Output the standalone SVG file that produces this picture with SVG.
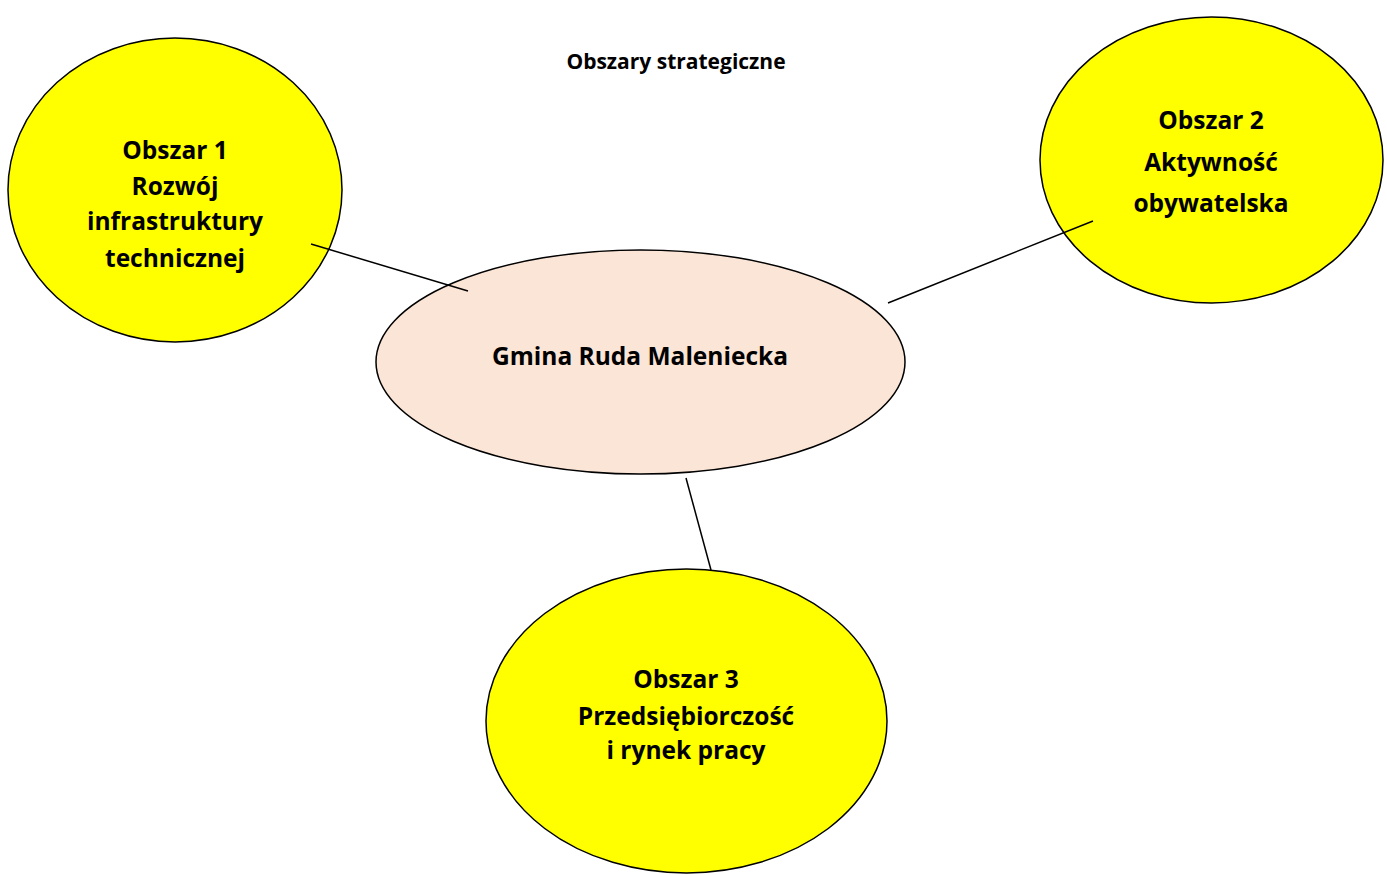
<svg xmlns="http://www.w3.org/2000/svg" width="1387" height="875" viewBox="0 0 1387 875">
<style>
.area{fill:#ffff00;stroke:#000;stroke-width:1.5}
.center{fill:#fbe5d6;stroke:#000;stroke-width:1.5}
.lbl{font-family:"Open Sans",Lato,"Liberation Sans",sans-serif;font-weight:bold;font-size:24.5px;fill:#000;text-anchor:middle}
.title{font-family:"Open Sans",Lato,"Liberation Sans",sans-serif;font-weight:bold;font-size:21px;fill:#000;text-anchor:middle}
.conn{stroke:#000;stroke-width:1.5;fill:none}
</style>
<rect width="1387" height="875" fill="#fff"/>
<text class="title" x="676" y="69">Obszary strategiczne</text>
<g id="node-obszar1">
<ellipse class="area" cx="175" cy="190" rx="167" ry="152"/>
<text class="lbl" x="175" y="159">Obszar 1</text>
<text class="lbl" x="175" y="195">Rozwój</text>
<text class="lbl" x="175" y="230">infrastruktury</text>
<text class="lbl" x="175" y="267">technicznej</text>
</g>
<g id="node-obszar2">
<ellipse class="area" cx="1211.5" cy="160" rx="171.5" ry="143"/>
<text class="lbl" x="1211" y="129">Obszar 2</text>
<text class="lbl" x="1211" y="171">Aktywność</text>
<text class="lbl" x="1211" y="212">obywatelska</text>
</g>
<g id="node-gmina">
<ellipse class="center" cx="640.5" cy="362" rx="264.5" ry="112"/>
<text class="lbl" x="640" y="365">Gmina Ruda Maleniecka</text>
</g>
<g id="node-obszar3">
<ellipse class="area" cx="686.5" cy="721" rx="200.5" ry="152"/>
<text class="lbl" x="686" y="688">Obszar 3</text>
<text class="lbl" x="686" y="725">Przedsiębiorczość</text>
<text class="lbl" x="686" y="759">i rynek pracy</text>
</g>
<g id="connectors">
<line class="conn" x1="311" y1="244" x2="468" y2="291"/>
<line class="conn" x1="1093" y1="221" x2="888" y2="303"/>
<line class="conn" x1="686" y1="478" x2="711" y2="570"/>
</g>
</svg>
